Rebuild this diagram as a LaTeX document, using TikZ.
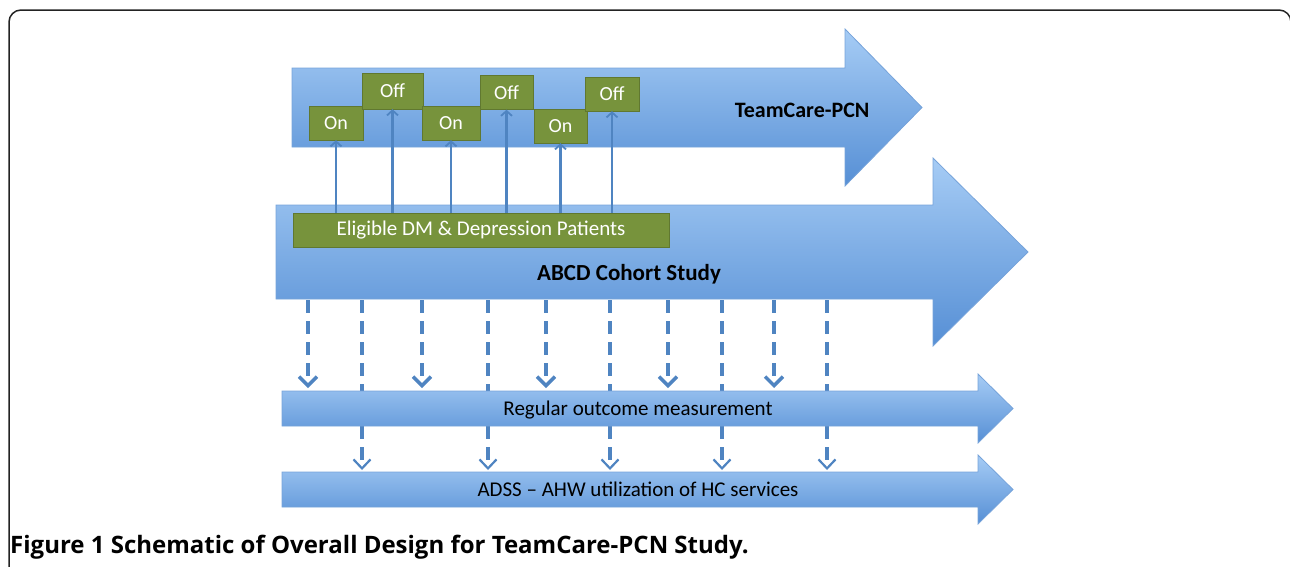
\documentclass[tikz,border=0pt]{standalone}
\usepackage{fontspec}
\setmainfont{Carlito}
\newfontfamily\capfont{Open Sans}
\usetikzlibrary{arrows.meta}

\definecolor{arrowtop}{RGB}{166,204,245}
\definecolor{arrowbot}{RGB}{86,143,213}
\definecolor{arrowline}{RGB}{118,163,218}
\definecolor{boxgreen}{RGB}{119,147,60}
\definecolor{boxshade}{RGB}{96,120,48}
\definecolor{lineblue}{RGB}{79,132,193}
\definecolor{framegray}{RGB}{35,35,35}

\tikzset{
  bigarrow/.style={top color=arrowtop, bottom color=arrowbot, draw=arrowline, line width=0.8pt},
  switchbox/.style={fill=boxgreen, draw=boxshade, line width=0.4pt, text=white,
    minimum height=34pt, inner sep=0pt, font=\fontsize{20}{20}\selectfont},
  upline/.style={draw=lineblue, line width=2.2pt, -{Straight Barb[length=5pt,width=11pt,line width=1.8pt]}},
  dashline/.style={draw=lineblue, line width=3.5pt, dash pattern=on 13pt off 8pt,
    -{Straight Barb[length=9pt,width=18pt,line width=3.5pt]}},
  dashlinelow/.style={dashline, -{Straight Barb[length=9pt,width=17pt,line width=2.2pt]}},
}

\begin{document}
\begin{tikzpicture}[x=1pt,y=-1pt]
\useasboundingbox (0,0) rectangle (1290,566);
\clip (0,0) rectangle (1290,566);
% frame
\draw[framegray, line width=1.5pt, rounded corners=12pt] (9,580) -- (9,10) -- (1291,10) -- (1291,580);

% connectors to the outcome arrows (behind the big arrows)
\coordinate (cb) at (0,300);
\coordinate (rt) at (0,388);
\coordinate (at) at (0,470);
\foreach \x in {308,422,546,668,774}
  \draw[dashline] (\x,0 |- cb) -- (\x,0 |- rt);
\foreach \x in {362,488,610,722,827}
  \draw[dashlinelow] (\x,0 |- cb) -- (\x,0 |- at);

% big arrows
\draw[bigarrow] (292,68) -- (845,68) -- (845,29) -- (922,107.5) -- (845,186) -- (845,147) -- (292,147) -- cycle;
\draw[bigarrow] (276,205) -- (933,205) -- (933,158) -- (1028,252) -- (933,346) -- (933,299) -- (276,299) -- cycle;
\draw[bigarrow] (282,391) -- (978,391) -- (978,374) -- (1013,408.5) -- (978,443) -- (978,426) -- (282,426) -- cycle;
\draw[bigarrow] (282,472) -- (978,472) -- (978,455) -- (1013,489.5) -- (978,524) -- (978,507) -- (282,507) -- cycle;

% labels
\node[anchor=base east, font=\fontsize{22}{22}\selectfont\bfseries] (teamcare) at (873,117) {TeamCare-PCN};
\node[anchor=base, font=\fontsize{23}{23}\selectfont\bfseries] (cohort) at (629,280) {ABCD Cohort Study};
\node[anchor=base, font=\fontsize{21}{21}\selectfont] (regular) at (638,415.5) {Regular outcome measurement};
\node[anchor=base, font=\fontsize{21}{21}\selectfont] (adss) at (638,496.5) {ADSS -- AHW utilization of HC services};

% green boxes
\node[switchbox, minimum width=376pt, font=\fontsize{21}{21}\selectfont] (elig) at (481,230) {Eligible DM \& Depression Patients};
\node[switchbox, minimum width=54pt] (on1) at (336,123) {On};
\node[switchbox, minimum width=61pt, minimum height=36pt] (off1) at (392.5,91) {Off};
\node[switchbox, minimum width=58pt] (on2) at (451,123) {On};
\node[switchbox, minimum width=53pt] (off2) at (506.5,92.5) {Off};
\node[switchbox, minimum width=53pt] (on3) at (560.5,126) {On};
\node[switchbox, minimum width=54pt] (off3) at (612,94) {Off};

% patients go to the on/off periods
\foreach \b in {on1,off1,on2,off2,on3,off3}
  \draw[upline] (elig.north -| \b) -- (\b.south);

% caption
\node[anchor=base west, font=\capfont\fontsize{24}{24}\selectfont\bfseries, inner sep=0pt] (caption) at (10,553)
  {Figure 1 Schematic of Overall Design for TeamCare-PCN Study.};
\end{tikzpicture}
\end{document}
